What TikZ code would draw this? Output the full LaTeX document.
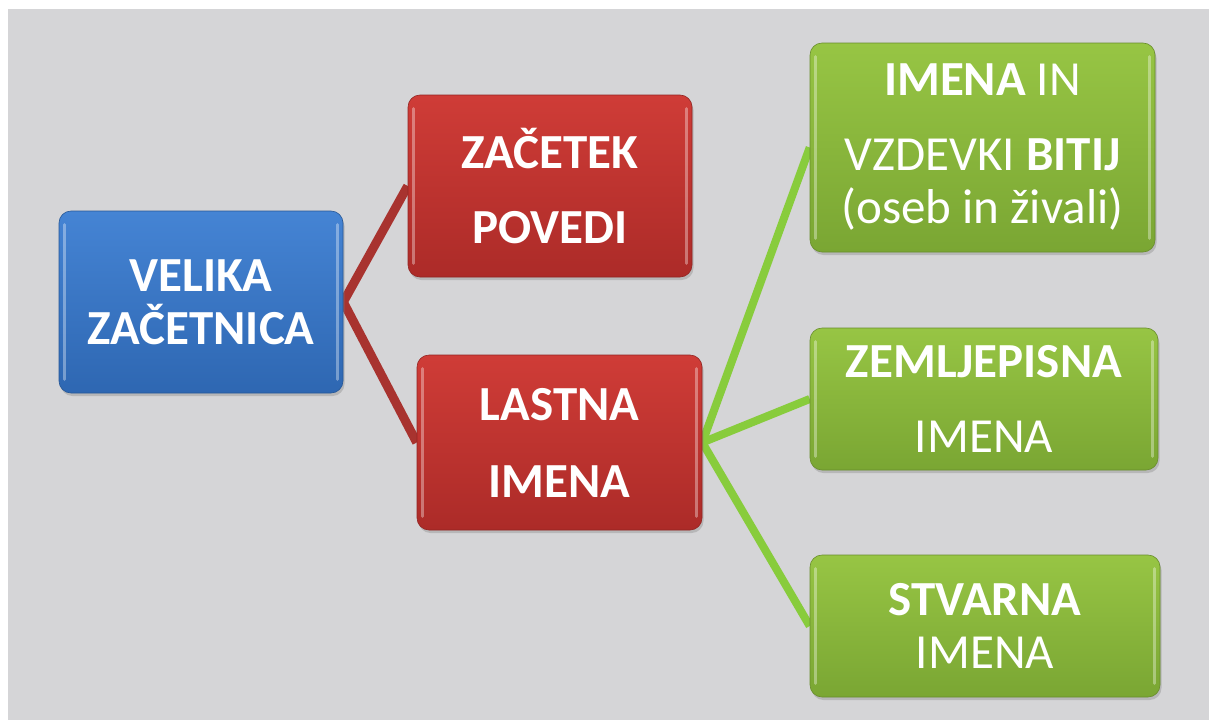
\documentclass[tikz,border=0pt]{standalone}
\usepackage{fontspec}
\setmainfont{Carlito}
\usetikzlibrary{shadows}
\definecolor{bgc}{HTML}{D5D5D7}
\definecolor{blueT}{HTML}{4584D4}
\definecolor{blueB}{HTML}{2E67B2}
\definecolor{redT}{HTML}{CF3C37}
\definecolor{redB}{HTML}{AC2B28}
\definecolor{grnT}{HTML}{97C544}
\definecolor{grnB}{HTML}{7AA633}
\definecolor{redline}{HTML}{A8332F}
\definecolor{grnline}{HTML}{88CC3C}
\pgfdeclarelayer{bg}\pgfdeclarelayer{edges}\pgfsetlayers{bg,edges,main}
\begin{document}
\begin{tikzpicture}[x=1pt,y=-1pt,
  box/.style={rounded corners=12pt, inner sep=0pt, align=center, text=white,
    font=\fontsize{49}{53}\selectfont,
    drop shadow={shadow xshift=1.5pt, shadow yshift=-3pt, opacity=0.35}},
  bluebox/.style={box, font=\fontsize{49}{53}\selectfont\bfseries, top color=blueT, bottom color=blueB, draw=blueB!85!black, line width=0.6pt},
  redbox/.style={box, font=\fontsize{49}{53}\selectfont\bfseries, top color=redT, bottom color=redB, draw=redB!85!black, line width=0.6pt},
  grnbox/.style={box, top color=grnT, bottom color=grnB, draw=grnB!85!black, line width=0.6pt},
  hilite/.style={line width=3pt, white, opacity=0.35, line cap=round},
  redconn/.style={redline, line width=9pt, line join=miter},
  grnconn/.style={grnline, line width=8pt}
]
\useasboundingbox (0,0) rectangle (1209,720);
\begin{pgfonlayer}{bg}
  \fill[white] (0,0) rectangle (1209,720);
  \fill[bgc] (8,9) rectangle (1209,720);
\end{pgfonlayer}

\node[bluebox, minimum width=284pt, minimum height=182pt] (velika) at (201,302) {VELIKA\\ZAČETNICA};
\node[redbox, minimum width=284pt, minimum height=182pt] (zacetek) at (550,186) {ZAČETEK\\[22pt]POVEDI};
\node[redbox, minimum width=285pt, minimum height=175pt] (lastna) at (559.5,442.5) {LASTNA\\[24pt]IMENA};
\node[grnbox, minimum width=345pt, minimum height=209pt] (bitja) at (982.5,147.5) {\textbf{IMENA} IN\\[22pt]VZDEVKI \textbf{BITIJ}\\(oseb in živali)};
\node[grnbox, minimum width=348pt, minimum height=142pt] (zemlj) at (984,399) {\textbf{ZEMLJEPISNA}\\[22pt]IMENA};
\node[grnbox, minimum width=350pt, minimum height=142pt] (stvar) at (985,626) {\textbf{STVARNA}\\IMENA};

\foreach \n in {velika,zacetek,lastna,bitja,zemlj,stvar}{
  \draw[hilite] ([xshift=6pt,yshift=-14pt]\n.north west) -- ([xshift=6pt,yshift=14pt]\n.south west);
  \draw[hilite] ([xshift=-6pt,yshift=-14pt]\n.north east) -- ([xshift=-6pt,yshift=14pt]\n.south east);
}

\begin{pgfonlayer}{edges}
  \draw[redconn] (zacetek.west) -- (velika.east) -- (lastna.west);
  \draw[grnconn] (lastna.east) -- (bitja.west);
  \draw[grnconn] (lastna.east) -- (zemlj.west);
  \draw[grnconn] (lastna.east) -- (stvar.west);
\end{pgfonlayer}
\end{tikzpicture}
\end{document}
